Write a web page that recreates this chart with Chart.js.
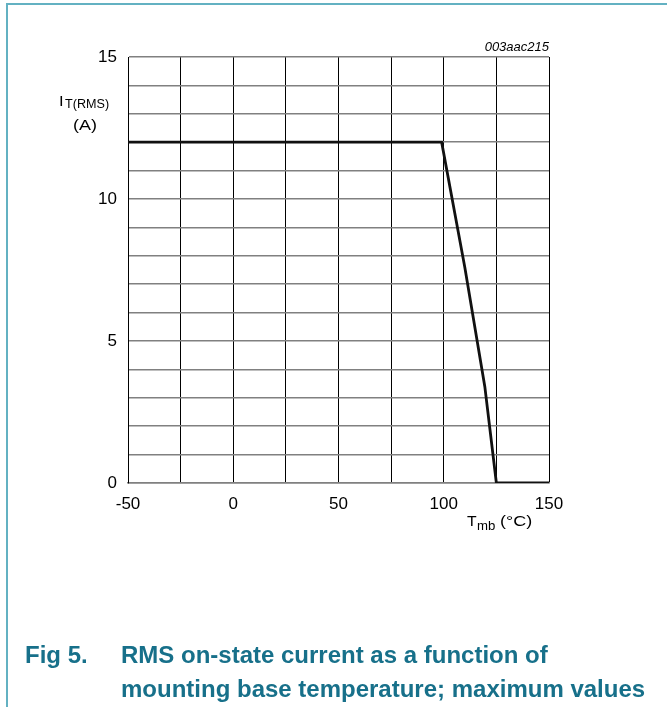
<!DOCTYPE html>
<html>
<head>
<meta charset="utf-8">
<script src="https://cdn.jsdelivr.net/npm/chart.js@4.4.1/dist/chart.umd.min.js"></script>
<style>
  html, body { margin: 0; padding: 0; background: #fff; }
  #wrap { position: relative; width: 667px; height: 707px; }
</style>
</head>
<body>
<div id="wrap"><canvas id="chart" width="667" height="707"></canvas></div>
<script>
// temperature (°C) and max RMS current (A)
const tempC = [-50, 99, 110, 119.5, 125, 150];
const currentA = [12, 12, 7.6, 3.4, 0, 0];
const xTickLabels = [-50, 0, 50, 100, 150];
const yTickLabels = [0, 5, 10, 15];

const FONT = 'Liberation Sans, Arial, sans-serif';
const TEAL = '#17708a';

// draws text stretched a little wider, like the scanned figure
function wideText(c, txt, x, y, font, sx) {
  c.save();
  c.font = font;
  c.translate(x, y);
  c.scale(sx, 1);
  c.fillText(txt, 0, 0);
  c.restore();
}

// extra page text and frame lines drawn on top of the chart
const extras = {
  id: 'extras',
  afterDraw(chart) {
    const c = chart.ctx;
    c.save();
    // page frame
    c.strokeStyle = '#63b1c2';
    c.lineWidth = 2;
    c.beginPath();
    c.moveTo(6, 4); c.lineTo(667, 4);
    c.moveTo(7, 4); c.lineTo(7, 707);
    c.stroke();

    c.fillStyle = '#000';
    c.textBaseline = 'alphabetic';
    // figure id
    c.font = 'italic 13px ' + FONT;
    c.textAlign = 'right';
    c.fillText('003aac215', 549, 51);
    // y title
    c.textAlign = 'left';
    wideText(c, 'I', 59, 106, '15px ' + FONT, 1.1);
    wideText(c, 'T(RMS)', 65, 108, '12px ' + FONT, 1.05);
    wideText(c, '(A)', 73, 130, '15px ' + FONT, 1.2);
    // x title
    wideText(c, 'T', 467, 526, '15px ' + FONT, 1.05);
    wideText(c, 'mb', 477, 530, '12px ' + FONT, 1.1);
    wideText(c, '(°C)', 500, 526, '15px ' + FONT, 1.2);
    // caption
    c.fillStyle = TEAL;
    c.font = 'bold 24px ' + FONT;
    c.fillText('Fig 5.', 25, 663);
    c.fillText('RMS on-state current as a function of', 121, 663);
    c.fillText('mounting base temperature; maximum values', 121, 697);
    c.restore();
  }
};

new Chart(document.getElementById('chart'), {
  type: 'scatter',
  data: {
    datasets: [{
      data: tempC.map((t, i) => ({ x: t, y: currentA[i] })),
      showLine: true,
      borderColor: '#111',
      borderWidth: 2.8,
      pointRadius: 0,
      tension: 0
    }]
  },
  options: {
    responsive: false,
    animation: false,
    layout: { padding: { left: 0, right: 118, top: 57, bottom: 0 } },
    plugins: { legend: { display: false }, tooltip: { enabled: false } },
    scales: {
      x: {
        type: 'linear',
        min: -50, max: 150,
        afterFit: s => { s.height = 224; },
        afterBuildTicks: s => { s.ticks = []; for (let v = -50; v <= 150; v += 25) s.ticks.push({ value: v }); },
        ticks: {
          color: '#000',
          font: { family: FONT, size: 17 },
          padding: 11,
          maxRotation: 0,
          autoSkip: false,
          callback: v => xTickLabels.includes(v) ? String(v) : ''
        },
        grid: { color: '#000', lineWidth: 1, drawTicks: false },
        border: { color: '#808080', width: 1.5 }
      },
      y: {
        type: 'linear',
        min: 0, max: 15,
        afterFit: s => { s.width = 128; },
        afterBuildTicks: s => { s.ticks = []; for (let v = 0; v <= 15; v += 1) s.ticks.push({ value: v }); },
        ticks: {
          color: '#000',
          font: { family: FONT, size: 17 },
          padding: 11,
          autoSkip: false,
          callback: v => yTickLabels.includes(v) ? String(v) : ''
        },
        grid: { color: '#808080', lineWidth: 1.5, drawTicks: false },
        border: { color: '#000', width: 1 }
      }
    }
  },
  plugins: [extras]
});
</script>
</body>
</html>
